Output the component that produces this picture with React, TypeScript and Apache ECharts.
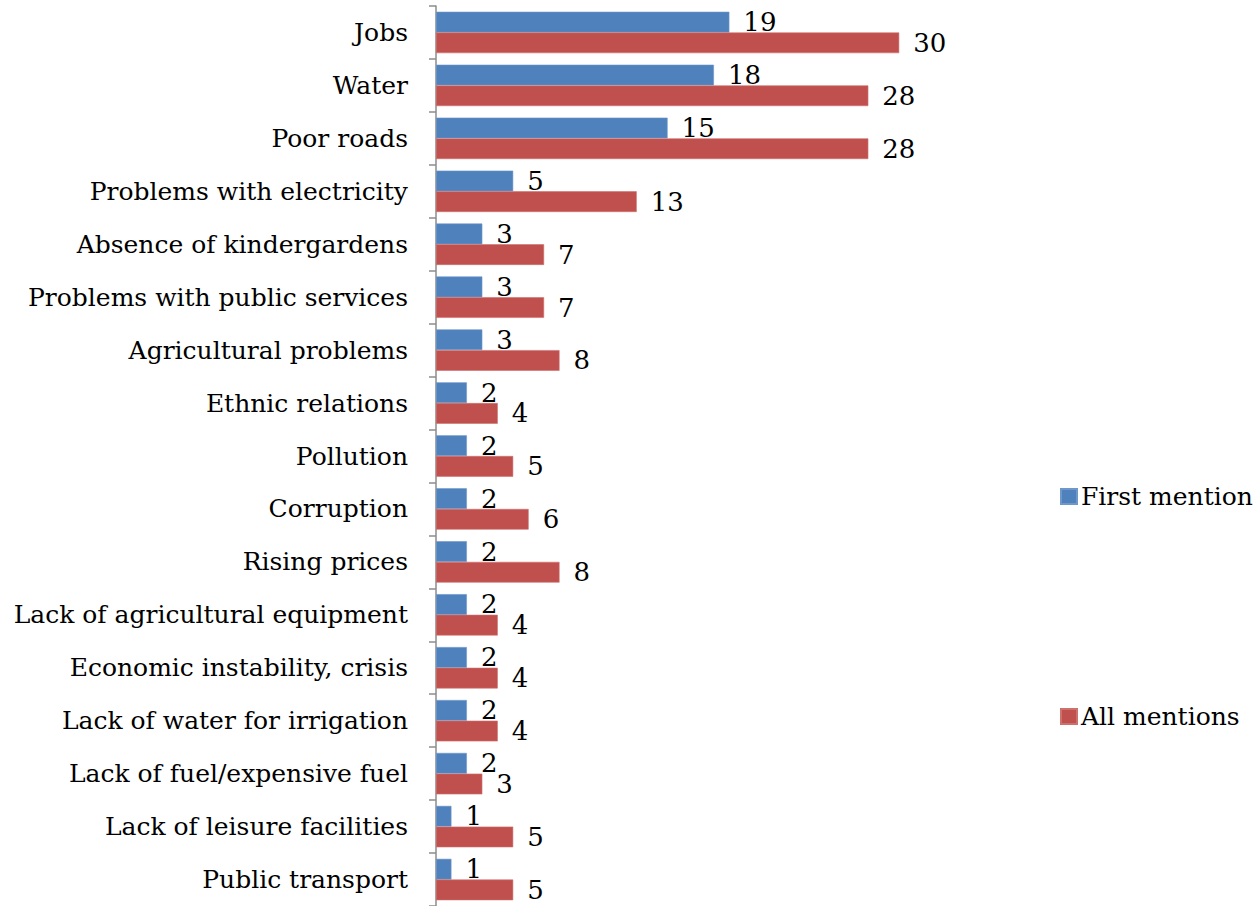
import React, { useEffect, useRef } from "react";
import * as echarts from "echarts";

const categories: string[] = [
  "Jobs",
  "Water",
  "Poor roads",
  "Problems with electricity",
  "Absence of kindergardens",
  "Problems with public services",
  "Agricultural problems",
  "Ethnic relations",
  "Pollution",
  "Corruption",
  "Rising prices",
  "Lack of agricultural equipment",
  "Economic instability, crisis",
  "Lack of water for irrigation",
  "Lack of fuel/expensive fuel",
  "Lack of leisure facilities",
  "Public transport",
];

const firstMention: number[] = [19, 18, 15, 5, 3, 3, 3, 2, 2, 2, 2, 2, 2, 2, 2, 1, 1];
const allMentions: number[] = [30, 28, 28, 13, 7, 7, 8, 4, 5, 6, 8, 4, 4, 4, 3, 5, 5];

const seriesNames: string[] = ["First mention", "All mentions"];

const FONT = "'DejaVu Serif', serif";

export default function App() {
  const ref = useRef<HTMLDivElement>(null);

  useEffect(() => {
    if (!ref.current) return;
    const chart = echarts.init(ref.current, null, { renderer: "svg" });
    const labelStyle = {
      show: true,
      position: "right" as const,
      distance: 14,
      color: "#000",
      fontSize: 26,
      fontFamily: FONT,
    };
    chart.setOption({
      animation: false,
      backgroundColor: "#ffffff",
      textStyle: { fontFamily: FONT },
      legend: {
        orient: "vertical",
        left: 1060,
        top: 484,
        padding: 0,
        itemWidth: 16,
        itemHeight: 15,
        itemGap: 195,
        icon: "rect",
        textStyle: { fontSize: 25, color: "#000", fontFamily: FONT, padding: [0, 0, 0, -1] },
        data: seriesNames,
      },
      grid: {
        left: 436,
        top: 6,
        width: 772,
        height: 906,
        containLabel: false,
      },
      xAxis: {
        type: "value",
        min: 0,
        max: 50,
        show: false,
      },
      yAxis: {
        type: "category",
        data: categories,
        inverse: true,
        axisLine: { show: true, lineStyle: { color: "#8c8c8c", width: 1.5 } },
        axisTick: { show: true, length: 7, inside: false, lineStyle: { color: "#8c8c8c", width: 1.5 } },
        axisLabel: {
          margin: 28,
          fontSize: 25,
          color: "#000",
          fontFamily: FONT,
          interval: 0,
        },
        splitLine: { show: false },
      },
      series: [
        {
          name: seriesNames[0],
          type: "bar",
          data: firstMention,
          barWidth: 20.7,
          barGap: "0%",
          itemStyle: { color: "#4F81BD", borderColor: "#6f97c9", borderWidth: 0.6 },
          label: labelStyle,
        },
        {
          name: seriesNames[1],
          type: "bar",
          data: allMentions,
          barWidth: 20.7,
          barGap: "0%",
          itemStyle: { color: "#C0504D", borderColor: "#cd716e", borderWidth: 0.6 },
          label: labelStyle,
        },
      ],
    });
    return () => chart.dispose();
  }, []);

  return (
    <div
      ref={ref}
      style={{ position: "fixed", left: 0, top: 0, width: 1258, height: 906, background: "#fff" }}
    />
  );
}
